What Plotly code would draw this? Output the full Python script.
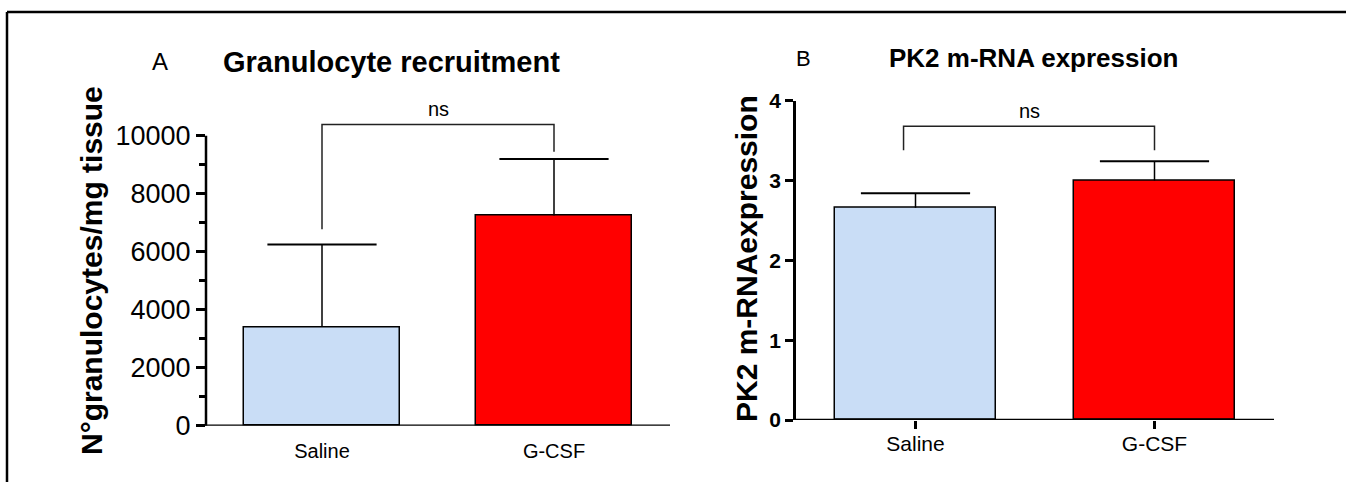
import plotly.graph_objects as go

# ---- data ----
groups = ["Saline", "G-CSF"]
group_pos = [0, 1]
bar_colors = ["#C9DDF6", "#FF0000"]

# Panel A: granulocytes per mg tissue (mean, upper SEM)
gran_mean = [3400, 7250]
gran_err = [2850, 1950]
gran_bracket_x = [0, 0, 1, 1]
gran_bracket_y = [6770, 10390, 10390, 9450]

# Panel B: PK2 mRNA expression (mean, upper SEM)
pk2_mean = [2.66, 3.00]
pk2_err = [0.18, 0.24]
pk2_bracket_x = [-0.05, -0.05, 1, 1]
pk2_bracket_y = [3.38, 3.68, 3.68, 3.38]

W, H = 1346, 482
FONT = "Liberation Sans, Arial, sans-serif"


def px(x):
    return x / W


def py(y):
    return 1 - y / H


fig = go.Figure()

for xa, ya, mean, err in (("x", "y", gran_mean, gran_err), ("x2", "y2", pk2_mean, pk2_err)):
    # bars with an upward whisker only
    fig.add_trace(go.Bar(
        x=group_pos, y=mean, width=0.67,
        marker=dict(color=bar_colors, line=dict(color="black", width=1.5)),
        error_y=dict(type="data", symmetric=False, array=err, arrayminus=[0, 0],
                     color="black", thickness=1.5, width=0),
        xaxis=xa, yaxis=ya, showlegend=False, hoverinfo="skip",
    ))
    # whisker caps at mean + SEM
    fig.add_trace(go.Scatter(
        x=group_pos, y=[m + e for m, e in zip(mean, err)], mode="markers",
        marker=dict(symbol="line-ew", size=78, color="black",
                    line=dict(color="black", width=2)),
        xaxis=xa, yaxis=ya, showlegend=False, hoverinfo="skip", cliponaxis=False,
    ))

for xa, ya, bx, by in (("x", "y", gran_bracket_x, gran_bracket_y),
                       ("x2", "y2", pk2_bracket_x, pk2_bracket_y)):
    fig.add_trace(go.Scatter(
        x=bx, y=by, mode="lines", line=dict(color="#222222", width=1.5),
        xaxis=xa, yaxis=ya, showlegend=False, hoverinfo="skip",
    ))

axis_common = dict(showgrid=False, zeroline=False, linecolor="black", tickcolor="black",
                   automargin=False)

fig.update_layout(
    width=W, height=H,
    margin=dict(l=0, r=0, t=0, b=0, pad=0, autoexpand=False),
    paper_bgcolor="white", plot_bgcolor="rgba(0,0,0,0)",
    font=dict(family=FONT, color="black"),
    bargap=0,
    xaxis=dict(domain=[px(206), px(670)], range=[-0.5, 1.5], tickmode="array",
               tickvals=group_pos, ticktext=groups, showline=False,
               ticks="", ticklabelstandoff=11, tickfont=dict(size=20), anchor="y",
               **axis_common),
    yaxis=dict(domain=[py(425.7), py(112.5)], range=[0, 10800], tickmode="linear",
               tick0=0, dtick=2000, tickformat="d", showline=False, ticks="outside",
               ticklen=9, tickwidth=2.5, tickfont=dict(size=27),
               minor=dict(dtick=1000, ticks="outside", ticklen=6, tickwidth=2.5,
                          tickcolor="black"),
               anchor="x", **axis_common),
    xaxis2=dict(domain=[px(796), px(1274)], range=[-0.5, 1.5], tickmode="array",
                tickvals=group_pos, ticktext=groups, showline=False,
                ticks="outside", ticklen=8, tickwidth=2.5, ticklabelstandoff=-3,
                tickfont=dict(size=21), anchor="y2", **axis_common),
    yaxis2=dict(domain=[py(420), py(100.7)], range=[0, 4], tickmode="linear",
                tick0=0, dtick=1, showline=True, linewidth=2.5, ticks="outside",
                ticklen=8, tickwidth=2.5, tickfont=dict(size=21, weight="bold"),
                anchor="x2", **axis_common),
)

# Axis lines drawn along the zero line so they cover the bar bottoms
fig.add_shape(type="line", xref="x domain", yref="y", x0=0, x1=0, y0=0, y1=10000,
              line=dict(color="black", width=2.5))
fig.add_shape(type="line", xref="x domain", yref="y", x0=-0.003, x1=1, y0=0, y1=0,
              line=dict(color="black", width=2.5))
fig.add_shape(type="line", xref="x2 domain", yref="y2", x0=-0.003, x1=1, y0=0, y1=0,
              line=dict(color="black", width=2.5))

# Figure frame (top and left edges)
fig.add_shape(type="line", xref="paper", yref="paper", x0=px(7), x1=1, y0=py(12), y1=py(12),
              line=dict(color="black", width=2.5))
fig.add_shape(type="line", xref="paper", yref="paper", x0=px(7), x1=px(7), y0=py(12), y1=0,
              line=dict(color="black", width=2.5))

annotations = [
    dict(text="A", x=px(160), y=py(62), font=dict(size=24)),
    dict(text="<b>Granulocyte recruitment</b>", x=px(391), y=py(62), font=dict(size=29)),
    dict(text="B", x=px(803), y=py(58), font=dict(size=22)),
    dict(text="<b>PK2 m-RNA expression</b>", x=px(1033), y=py(58), font=dict(size=26)),
    dict(text="<b>N°granulocytes/mg tissue</b>", x=px(91), y=py(271), textangle=-90,
         font=dict(size=30)),
    dict(text="<b>PK2 m-RNAexpression</b>", x=px(746), y=py(259), textangle=-90,
         font=dict(size=30)),
]
for a in annotations:
    fig.add_annotation(xref="paper", yref="paper", showarrow=False,
                       xanchor="center", yanchor="middle", **a)

# significance labels above the brackets
fig.add_annotation(text="ns", xref="x", yref="y", x=sum(gran_bracket_x[1:3]) / 2,
                   y=gran_bracket_y[1], yanchor="bottom", yshift=2, showarrow=False,
                   font=dict(size=20))
fig.add_annotation(text="ns", xref="x2", yref="y2", x=sum(pk2_bracket_x[1:3]) / 2,
                   y=pk2_bracket_y[1], yanchor="bottom", yshift=2, showarrow=False,
                   font=dict(size=20))

fig.write_html("out.html")
